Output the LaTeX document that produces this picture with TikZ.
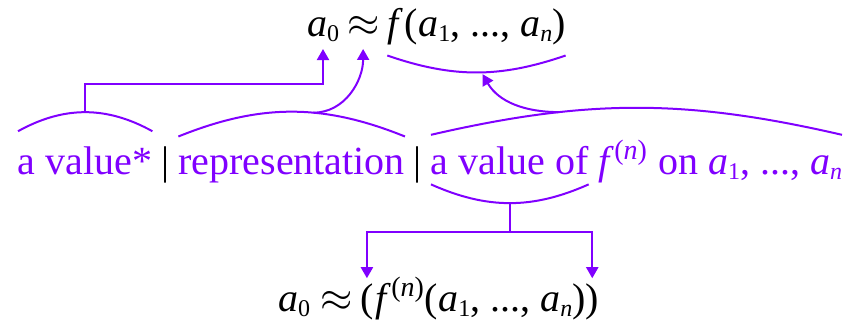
\documentclass[tikz,border=0pt]{standalone}
\usepackage{fontspec}
\setmainfont{Liberation Serif}
\usetikzlibrary{arrows.meta,positioning,calc}
\definecolor{vpurple}{HTML}{8000FF}
\newcommand{\idx}[1]{\raisebox{-0.12em}{\fontsize{12}{12}\selectfont #1}}
\newcommand{\va}{\textit{a}}

\begin{document}
\begin{tikzpicture}[x=0.5pt,y=0.5pt,
    every node/.style={inner sep=0pt,outer sep=0pt,font=\fontsize{20}{24}\selectfont},
    lbl/.style={text=vpurple},
    brace/.style={vpurple,line width=1pt},
    a/.style={-{Triangle[width=6pt,length=5.5pt]},line width=1pt,vpurple}]
  \useasboundingbox (0,0) rectangle (851,324);
  % top formula
  \node[anchor=base west] (a0) at (307,287) {\va\idx{0}};
  \node[base right=4pt of a0] (approx) {$\approx$};
  \node[base right=4pt of approx] (fn) {\textit{f}};
  \node[base right=1pt of fn] (args) {(\va\idx{1}, ..., \va\idx{\textit{n}})};
  % middle line
  \node[lbl,anchor=base west] (val) at (18,149) {a value*};
  \node[base right=4.5pt of val] (bar1) {|};
  \node[lbl,base right=4.5pt of bar1] (rep) {representation};
  \node[base right=4.5pt of rep] (bar2) {|};
  \node[lbl,base right=4.5pt of bar2] (valof) {a value of};
  \node[lbl,base right=5pt of valof] (rest) {\textit{f}\textsuperscript{(\textit{n})} on \va\idx{1}, ..., \va\idx{\textit{n}}};
  % bottom formula
  \node[anchor=base west] (b0) at (278,12) {\va\idx{0} $\approx$};
  \node[base right=4pt of b0] (bopen) {(};
  \node[base right=1pt of bopen] (bfn) {\textit{f}\textsuperscript{(\textit{n})}(\va\idx{1}, ..., \va\idx{\textit{n}})};
  \node[base right=0pt of bfn] (bclose) {)};
  % braces
  \draw[brace] ([yshift=8pt]val.north west) to[bend left=29] coordinate[midway] (valtop) ([yshift=8pt]val.north east);
  \draw[brace] ([yshift=6pt]rep.north west) to[bend left=22] coordinate[pos=0.6] (reptop) ([yshift=6pt]rep.north east);
  \draw[brace] ([yshift=6pt]valof.north west) to[bend left=13] coordinate[pos=0.3] (wtop) ([yshift=6pt]valof.north west -| rest.east);
  \draw[brace] ($(fn.west |- args.south)+(0,-5pt)$) to[bend right=19] coordinate[pos=0.53] (argsbot) ($(args.south east)+(0,-5pt)$);
  \draw[brace] ($(valof.south west)+(0,-4.5pt)$) to[bend right=24] coordinate[midway] (valbot) ($(valof.south east)+(0,-4.5pt)$);
  % arrows
  \draw[a] (valtop) -- ++(0,14pt) -| ([yshift=-3.5pt]a0.south);
  \draw[a] (reptop) to[out=0,in=-90] ([yshift=-6pt]approx.south);
  \draw[a,shorten >=1pt] (wtop) to[out=180,in=-60] (argsbot);
  \draw[brace] (valbot) -- ++(0,-14.5pt) coordinate (split);
  \draw[a] (split) -| ([yshift=3pt]bopen.north);
  \draw[a] (split) -| ([yshift=3pt]bclose.north);
\end{tikzpicture}
\end{document}
